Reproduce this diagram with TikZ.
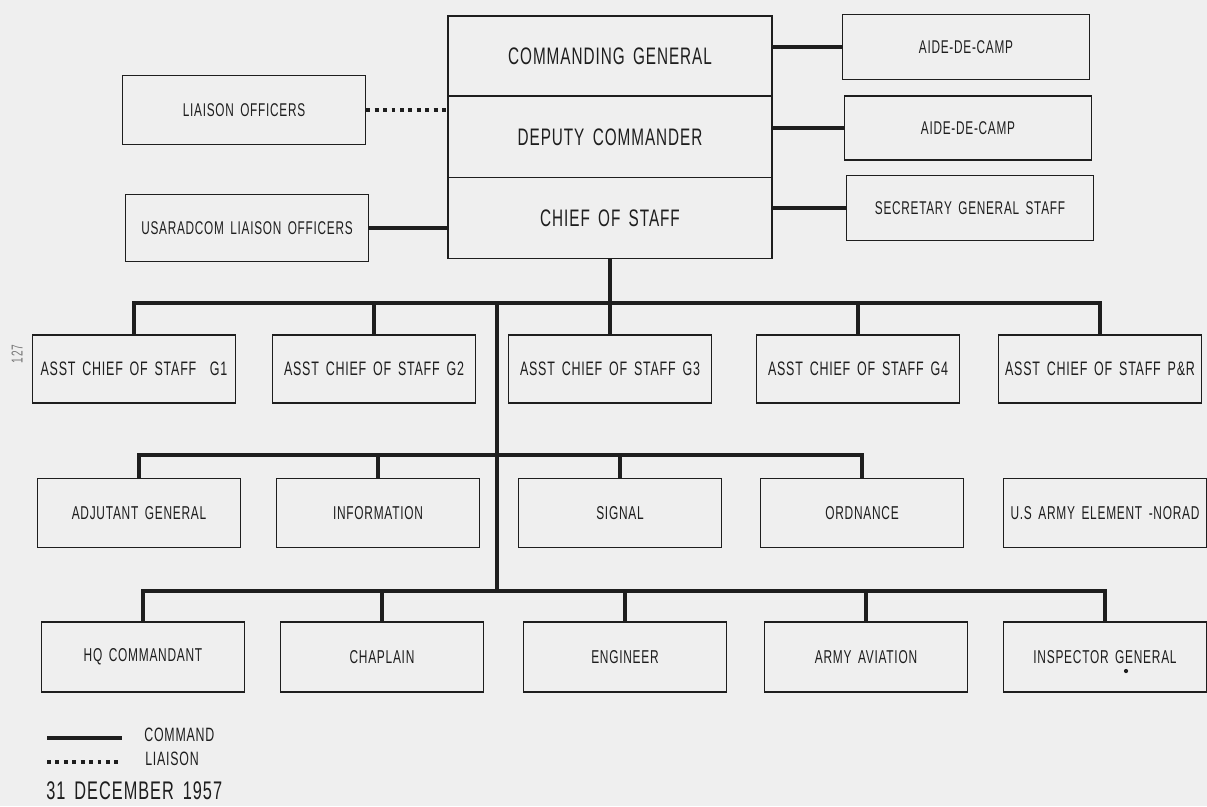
\documentclass[tikz,border=0pt]{standalone}
\usepackage{fontspec}
\setmainfont[FakeStretch=0.64, LetterSpace=4, WordSpace=1.6]{Liberation Sans}
\definecolor{bg}{RGB}{239,239,239}
\definecolor{ink}{RGB}{30,30,30}
\tikzset{
  box/.style={draw=ink, line width=0.9pt, text=ink, inner sep=0pt, align=center},
  topbox/.style={box, minimum width=6.48cm, minimum height=1.62cm, font=\fontsize{13.6}{16}\selectfont},
  sidebox/.style={box, minimum width=4.86cm, minimum height=1.32cm, font=\fontsize{10.5}{12}\selectfont},
  staffbox/.style={box, minimum width=4.06cm, minimum height=1.36cm, font=\fontsize{11.1}{13}\selectfont},
  unitbox/.style={box, minimum width=4.06cm, minimum height=1.38cm, font=\fontsize{10.6}{12}\selectfont},
  cmd/.style={draw=ink, line width=2.1pt, line join=miter},
  liaisonline/.style={draw=ink, line width=2.2pt, dash pattern=on 2.2pt off 2.6pt},
  legendtext/.style={text=ink, inner sep=0pt, anchor=west, font=\fontsize{11}{13}\selectfont},
}
\begin{document}
\begin{tikzpicture}[x=0.02cm, y=-0.02cm]
\useasboundingbox (0,0) rectangle (1207,806);
\fill[bg] (0,0) rectangle (1207,806);

% page number
\node[rotate=90, text=ink!60, inner sep=0pt, font=\fontsize{9}{10}\selectfont] (pg) at (17,354) {127};

% command group
\node[topbox, minimum height=1.61cm] (cg) at (610,56) {COMMANDING GENERAL};
\node[topbox] (dc) at (610,137) {DEPUTY COMMANDER};
\node[topbox] (cos) at (610,218) {CHIEF OF STAFF};

% side boxes
\node[sidebox, minimum height=1.38cm] (lo) at (244,110) {LIAISON OFFICERS};
\node[sidebox, minimum height=1.34cm] (usar) at (247,228) {USARADCOM LIAISON OFFICERS};
\node[sidebox, minimum width=4.94cm, minimum height=1.30cm] (adc1) at (966,47) {AIDE-DE-CAMP};
\node[sidebox, minimum width=4.94cm, minimum height=1.28cm] (adc2) at (968,128) {AIDE-DE-CAMP};
\node[sidebox, minimum width=4.94cm, minimum height=1.30cm] (sgs) at (970,208) {SECRETARY GENERAL STAFF};

\draw[liaisonline] (lo.east) -- (lo.east -| cg.west);
\draw[cmd] (usar.east) -- (usar.east -| cos.west);
\draw[cmd] (adc1.west) -- (adc1.west -| cg.east);
\draw[cmd] (adc2.west) -- (adc2.west -| dc.east);
\draw[cmd] (sgs.west) -- (sgs.west -| cos.east);

% row 1
\node[staffbox] (g1) at (134,369) {ASST CHIEF OF STAFF \ G1};
\node[staffbox] (g2) at (374,369) {ASST CHIEF OF STAFF G2};
\node[staffbox] (g3) at (610,369) {ASST CHIEF OF STAFF G3};
\node[staffbox] (g4) at (858,369) {ASST CHIEF OF STAFF G4};
\node[staffbox] (pr) at (1100,369) {ASST CHIEF OF STAFF P\&R};

% row 2
\node[unitbox] (adj) at (139,513) {ADJUTANT GENERAL};
\node[unitbox] (inf) at (378,513) {INFORMATION};
\node[unitbox] (sig) at (620,513) {SIGNAL};
\node[unitbox] (ord) at (862,513) {ORDNANCE};
\node[unitbox] (norad) at (1105,513) {U.S ARMY ELEMENT -NORAD};

% row 3
\node[unitbox, minimum height=1.40cm] (hq) at (143,657) {HQ COMMANDANT};
\node[unitbox, minimum height=1.40cm] (chap) at (382,657) {CHAPLAIN};
\node[unitbox, minimum height=1.40cm] (eng) at (625,657) {ENGINEER};
\node[unitbox, minimum height=1.40cm] (avn) at (866,657) {ARMY AVIATION};
\node[unitbox, minimum height=1.40cm] (ig) at (1105,657) {INSPECTOR GENERAL};
\fill[ink] (ig.center) ++(21,14) circle (1.2pt);

% tree connectors
\coordinate (b1) at (610,303);
\coordinate (b2) at (497,455);
\coordinate (b3) at (497,591);
\draw[cmd] (cos.south) -- (g3.north);
\draw[cmd] (g1.north) |- (b1) -| (pr.north);
\draw[cmd] (g2.north) -- (g2.north |- b1);
\draw[cmd] (g4.north) -- (g4.north |- b1);
\draw[cmd] (b1 -| b2) -- (b3);
\draw[cmd] (adj.north) |- (b2) -| (ord.north);
\draw[cmd] (inf.north) -- (inf.north |- b2);
\draw[cmd] (sig.north) -- (sig.north |- b2);
\draw[cmd] (hq.north) |- (b3) -| (ig.north);
\draw[cmd] (chap.north) -- (chap.north |- b3);
\draw[cmd] (eng.north) -- (eng.north |- b3);
\draw[cmd] (avn.north) -- (avn.north |- b3);

% legend
\coordinate (la) at (47,738);
\coordinate (lb) at (122,738);
\coordinate (lc) at (47,762);
\coordinate (ld) at (122,762);
\draw[cmd] (la) -- (lb);
\draw[liaisonline] (lc) -- (ld);
\node[legendtext] (lcmd) at (144,735) {COMMAND};
\node[legendtext] (llia) at (145,759) {LIAISON};
\node[legendtext, font=\fontsize{14.5}{16}\selectfont] (date) at (46,791) {31 DECEMBER 1957};
\end{tikzpicture}
\end{document}
